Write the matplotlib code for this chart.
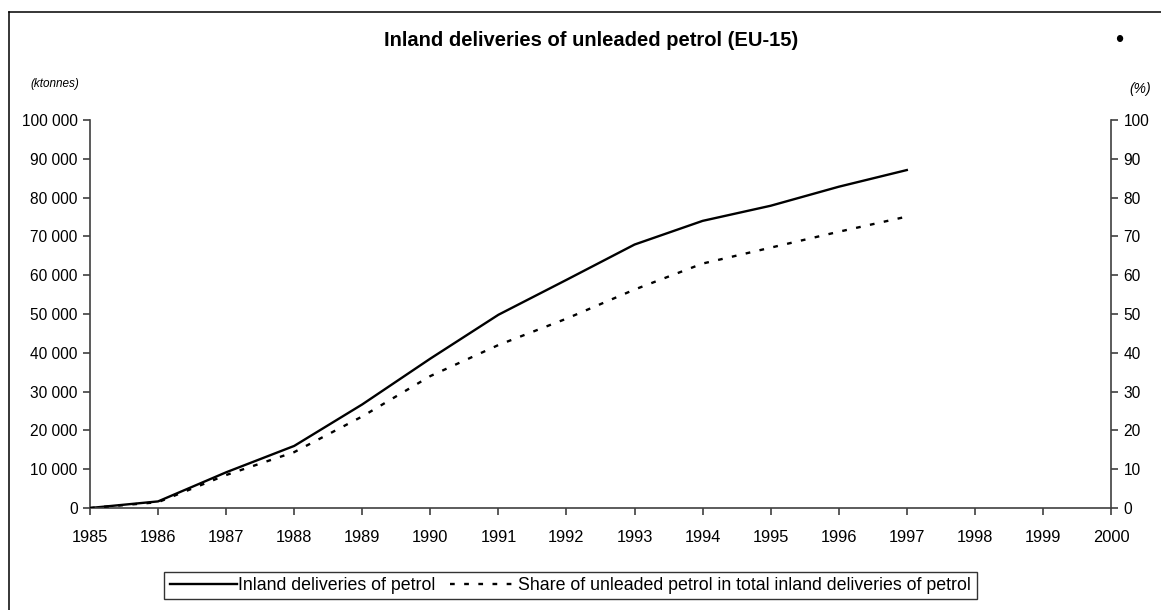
import matplotlib
matplotlib.use("Agg")
import matplotlib.pyplot as plt
from matplotlib.lines import Line2D
from matplotlib.ticker import FuncFormatter

plt.rcParams['font.family'] = ['Liberation Sans', 'DejaVu Sans']

# Data
years = [1985, 1986, 1987, 1988, 1989, 1990, 1991, 1992, 1993, 1994, 1995, 1996, 1997]
deliveries_kt = [0, 1700, 9200, 16000, 26700, 38500, 49800, 58800, 67900, 74000, 77900, 82800, 87100]
unleaded_share = [0, 1.5, 8.5, 14.4, 23.6, 34.0, 42.0, 48.8, 56.3, 63.0, 67.1, 71.2, 75.1]
x_ticks = list(range(1985, 2001))
left_ticks = list(range(0, 100001, 10000))
right_ticks = list(range(0, 101, 10))

title = "Inland deliveries of unleaded petrol (EU-15)"
label_solid = "Inland deliveries of petrol"
label_dashed = "Share of unleaded petrol in total inland deliveries of petrol"

W, H = 1161, 610
fig = plt.figure(figsize=(W / 100, H / 100), dpi=100)
fig.patch.set_facecolor('white')

# Frame around the chart (left and top edges visible)
fig.add_artist(Line2D([8.5 / W, 8.5 / W], [0, 1 - 11.5 / H], transform=fig.transFigure,
                      color='black', lw=1.1))
fig.add_artist(Line2D([8.5 / W, 1.0], [1 - 11.5 / H, 1 - 11.5 / H], transform=fig.transFigure,
                      color='black', lw=1.1))

left, right, bottom, top = 90 / W, 1111 / W, 1 - 508 / H, 1 - 120 / H
ax = fig.add_axes([left, bottom, right - left, top - bottom])
ax2 = ax.twinx()

spine_col = '#404040'
for a in (ax, ax2):
    for s in a.spines.values():
        s.set_visible(False)
ax.spines['left'].set_visible(True)
ax.spines['bottom'].set_visible(True)
ax2.spines['right'].set_visible(True)
for s in (ax.spines['left'], ax.spines['bottom'], ax2.spines['right']):
    s.set_color(spine_col)
    s.set_linewidth(1.2)

ln1, = ax.plot(years, deliveries_kt, color='black', lw=1.7, solid_joinstyle='miter')
ln2, = ax2.plot(years, unleaded_share, color='black', lw=1.7, linestyle=(0, (2, 4.0)))

ax.set_xlim(1985, 2000)
ax.set_ylim(0, 100000)
ax2.set_ylim(0, 100)
ax.set_xticks(x_ticks)
ax.set_yticks(left_ticks)
ax2.set_yticks(right_ticks)
ax.yaxis.set_major_formatter(FuncFormatter(lambda v, p: f"{int(v):,}".replace(",", " ")))

ax.tick_params(axis='y', direction='out', length=5, width=1.2, color=spine_col,
               labelsize=11.2, pad=4)
ax.tick_params(axis='x', direction='out', length=5, width=1.2, color=spine_col,
               labelsize=11.8, pad=11)
ax2.tick_params(axis='y', direction='out', length=5, width=1.2, color=spine_col,
                labelsize=11.2, pad=4)

fig.text(591 / W, 1 - 41 / H, title, ha='center', va='center', fontsize=14.5,
         fontweight='bold')
fig.text(1119 / W, 1 - 41 / H, "•", ha='center', va='center', fontsize=17)
fig.text(30 / W, 1 - 84 / H, "(ktonnes)", ha='left', va='center', fontsize=8.5,
         style='italic')
fig.text(1151 / W, 1 - 89 / H, "(%)", ha='right', va='center', fontsize=10,
         style='italic')

leg = fig.legend([ln1, ln2], [label_solid, label_dashed], ncol=2,
                 loc='center', bbox_to_anchor=(570.5 / W, 1 - 585.5 / H),
                 fontsize=12.8, frameon=True, fancybox=False, handlelength=3.8,
                 handletextpad=0.05, columnspacing=0.8, borderpad=0.3,
                 borderaxespad=0)
leg.get_frame().set_edgecolor('black')
leg.get_frame().set_linewidth(1.0)

fig.savefig("out.png", dpi=100, facecolor='white')
